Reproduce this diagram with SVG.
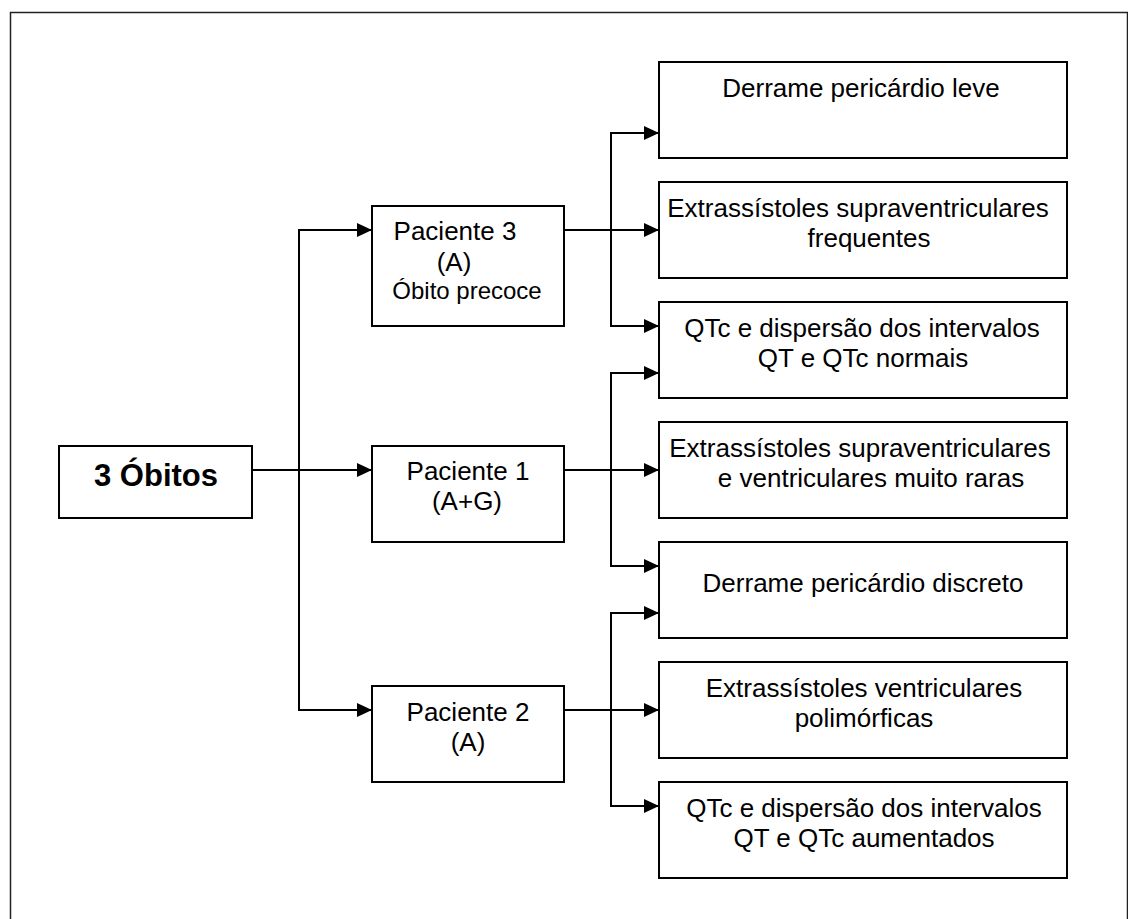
<svg xmlns="http://www.w3.org/2000/svg" width="1128" height="919" viewBox="0 0 1128 919">
<style>
.box{fill:#fff;stroke:#000;stroke-width:2}
.frame{fill:none;stroke:#222;stroke-width:1.5}
.t{font-family:"Liberation Sans",Arial,sans-serif;font-size:26px;fill:#000;text-anchor:middle}
.s{font-size:24px}
.b{font-weight:bold;font-size:31px}
.c{fill:none;stroke:#000;stroke-width:2}
</style>
<defs>
<marker id="ah" markerUnits="userSpaceOnUse" markerWidth="17" markerHeight="16" refX="15" refY="7" orient="auto">
<path d="M0,0 L15,7 L0,14 z" fill="#000"/>
</marker>
</defs>
<rect class="frame" x="10.5" y="12.5" width="1117" height="920"/>
<g id="connectors">
<path class="c" d="M252,470 H372" marker-end="url(#ah)"/>
<path class="c" d="M372,230 H299 V710 H372" />
<path class="c" d="M299,230 H372" marker-end="url(#ah)"/>
<path class="c" d="M299,710 H372" marker-end="url(#ah)"/>
<path class="c" d="M659,133 H611 V326 H659"/>
<path class="c" d="M611,133 H659" marker-end="url(#ah)"/>
<path class="c" d="M564,230 H659" marker-end="url(#ah)"/>
<path class="c" d="M611,326 H659" marker-end="url(#ah)"/>
<path class="c" d="M659,373 H611 V566 H659"/>
<path class="c" d="M611,373 H659" marker-end="url(#ah)"/>
<path class="c" d="M564,470 H659" marker-end="url(#ah)"/>
<path class="c" d="M611,566 H659" marker-end="url(#ah)"/>
<path class="c" d="M659,613 H611 V806 H659"/>
<path class="c" d="M611,613 H659" marker-end="url(#ah)"/>
<path class="c" d="M564,710 H659" marker-end="url(#ah)"/>
<path class="c" d="M611,806 H659" marker-end="url(#ah)"/>
</g>
<g id="obitos">
<rect class="box" x="59" y="446" width="193" height="72"/>
<text class="t b" x="156" y="486">3 Óbitos</text>
</g>
<g id="paciente3">
<rect class="box" x="372" y="206" width="192" height="120"/>
<text class="t" x="455" y="240">Paciente 3</text>
<text class="t" x="454" y="271">(A)</text>
<text class="t s" x="467" y="299">Óbito precoce</text>
</g>
<g id="paciente1">
<rect class="box" x="372" y="446" width="192" height="96"/>
<text class="t" x="468" y="480">Paciente 1</text>
<text class="t" x="467" y="510">(A+G)</text>
</g>
<g id="paciente2">
<rect class="box" x="372" y="686" width="192" height="96"/>
<text class="t" x="468" y="721">Paciente 2</text>
<text class="t" x="468" y="751">(A)</text>
</g>
<g id="r1">
<rect class="box" x="659" y="62" width="408" height="96"/>
<text class="t" x="861" y="97">Derrame pericárdio leve</text>
</g>
<g id="r2">
<rect class="box" x="659" y="182" width="408" height="96"/>
<text class="t" x="858" y="217">Extrassístoles supraventriculares</text>
<text class="t" x="869" y="247">frequentes</text>
</g>
<g id="r3">
<rect class="box" x="659" y="302" width="408" height="96"/>
<text class="t" x="862" y="337">QTc e dispersão dos intervalos</text>
<text class="t" x="863" y="367">QT e QTc normais</text>
</g>
<g id="r4">
<rect class="box" x="659" y="422" width="408" height="96"/>
<text class="t" x="860" y="457">Extrassístoles supraventriculares</text>
<text class="t" x="871" y="487">e ventriculares muito raras</text>
</g>
<g id="r5">
<rect class="box" x="659" y="542" width="408" height="96"/>
<text class="t" x="863" y="592">Derrame pericárdio discreto</text>
</g>
<g id="r6">
<rect class="box" x="659" y="662" width="408" height="96"/>
<text class="t" x="864" y="697">Extrassístoles ventriculares</text>
<text class="t" x="864" y="727">polimórficas</text>
</g>
<g id="r7">
<rect class="box" x="659" y="782" width="408" height="96"/>
<text class="t" x="864" y="817">QTc e dispersão dos intervalos</text>
<text class="t" x="864" y="847">QT e QTc aumentados</text>
</g>
</svg>
